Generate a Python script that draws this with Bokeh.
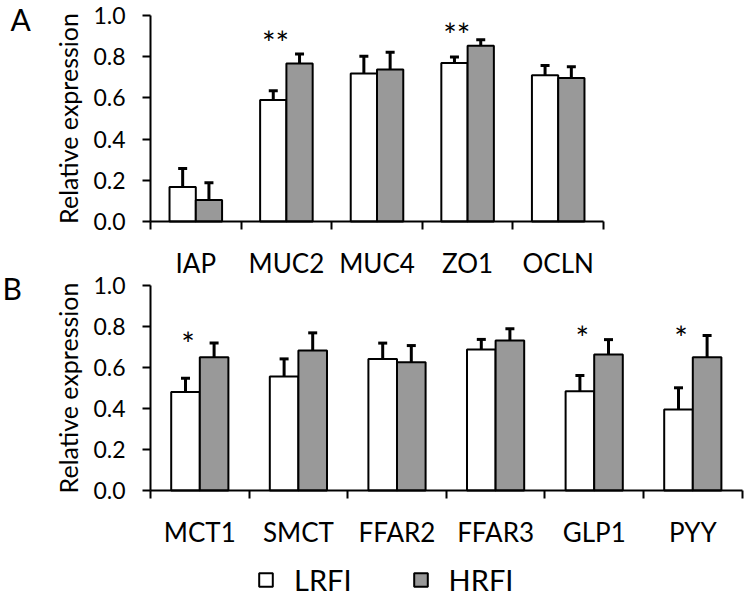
from bokeh.plotting import figure
from bokeh.models import (Range1d, LinearAxis, FixedTicker, Whisker, TeeHead,
                          ColumnDataSource, Label, Legend, LegendItem, NumeralTickFormatter)
from bokeh.transform import dodge
from bokeh.core.properties import value
from bokeh.embed import file_html
from bokeh.resources import INLINE

FONT = "Lato"

# ---------------- data ----------------
groups = ["LRFI", "HRFI"]
y_ticks = [0.0, 0.2, 0.4, 0.6, 0.8, 1.0]

genes_a = ["IAP", "MUC2", "MUC4", "ZO1", "OCLN"]
lrfi_a = [0.167, 0.590, 0.719, 0.770, 0.710]
lrfi_err_a = [0.090, 0.045, 0.083, 0.029, 0.047]
hrfi_a = [0.104, 0.767, 0.738, 0.853, 0.697]
hrfi_err_a = [0.084, 0.046, 0.084, 0.029, 0.054]
sig_a = ["", "**", "", "**", ""]
sig_height_a = [0.0, 0.87, 0.0, 0.91, 0.0]

genes_b = ["MCT1", "SMCT", "FFAR2", "FFAR3", "GLP1", "PYY"]
lrfi_b = [0.480, 0.556, 0.642, 0.688, 0.484, 0.395]
lrfi_err_b = [0.068, 0.086, 0.077, 0.049, 0.077, 0.106]
hrfi_b = [0.650, 0.683, 0.626, 0.732, 0.663, 0.650]
hrfi_err_b = [0.069, 0.086, 0.081, 0.057, 0.073, 0.106]
sig_b = ["*", "", "", "", "*", "*"]
sig_height_b = [0.717, 0.0, 0.0, 0.0, 0.748, 0.748]

WHITE = "#ffffff"
GRAY = "#999999"
BAR_W = 0.29
OFF = 0.145

W, H = 745, 597
AXIS_PX = 150       # x pixel of both y axes

p = figure(x_range=Range1d(0, 1), y_range=Range1d(0, 1), width=W, height=H,
           output_backend="svg", toolbar_location=None,
           x_axis_location=None, y_axis_location=None,
           min_border=0, min_border_left=0, min_border_right=0,
           min_border_top=0, min_border_bottom=0)
p.grid.visible = False
p.outline_line_color = None
p.background_fill_color = "white"
p.border_fill_color = "white"


def panel(name, letter, genes, lo, lo_err, hi, hi_err, sig, sig_h,
          cat_px, one_px, zero_px, letter_px):
    n = len(genes)
    idx = list(range(n))
    unit = zero_px - one_px
    x0 = -0.5 - AXIS_PX / cat_px
    p.extra_x_ranges = {**p.extra_x_ranges, name: Range1d(x0, x0 + W / cat_px)}
    p.extra_y_ranges = {**p.extra_y_ranges, name: Range1d((zero_px - H) / unit, zero_px / unit)}
    rn = dict(x_range_name=name, y_range_name=name)

    src = ColumnDataSource(dict(
        xc=idx, gene=genes, lo=lo, hi=hi,
        lo_up=[v + e for v, e in zip(lo, lo_err)],
        hi_up=[v + e for v, e in zip(hi, hi_err)],
        sig=sig, sig_h=sig_h,
    ))

    yax = LinearAxis(fixed_location=-0.5, bounds=(0, 1), **rn,
                     ticker=FixedTicker(ticks=y_ticks),
                     formatter=NumeralTickFormatter(format="0.0"),
                     minor_tick_line_color=None,
                     major_tick_out=8, major_tick_in=0, major_tick_line_width=2,
                     major_tick_line_color="black",
                     axis_line_width=2, axis_line_color="black",
                     major_label_standoff=17, major_label_text_font=FONT,
                     major_label_text_font_size="23px", major_label_text_color="black",
                     axis_label="Relative expression", axis_label_text_font=FONT,
                     axis_label_text_font_size="25px", axis_label_text_font_style="normal",
                     axis_label_text_color="black", axis_label_standoff=7)
    p.add_layout(yax, "left")

    # names at category centres, tick marks (minor ticks) at category boundaries
    xax = LinearAxis(fixed_location=0, bounds=(-0.5, n - 0.5), **rn,
                     ticker=FixedTicker(ticks=idx, minor_ticks=[i - 0.5 for i in range(n + 1)]),
                     major_label_overrides={i: g for i, g in zip(idx, genes)},
                     axis_line_width=2, axis_line_color="black",
                     major_tick_line_color=None, major_tick_out=0, major_tick_in=0,
                     minor_tick_out=8, minor_tick_in=0, minor_tick_line_width=2,
                     minor_tick_line_color="black",
                     major_label_standoff=17,
                     major_label_text_font=FONT, major_label_text_font_size="26px",
                     major_label_text_color="black")
    p.add_layout(xax, "below")

    r_lo = p.vbar(x=dodge("xc", -OFF), top="lo", width=BAR_W, source=src, **rn,
                  fill_color=WHITE, line_color="black", line_width=2)
    r_hi = p.vbar(x=dodge("xc", OFF), top="hi", width=BAR_W, source=src, **rn,
                  fill_color=GRAY, line_color="black", line_width=2)

    for field, up, off in (("lo", "lo_up", -OFF), ("hi", "hi_up", OFF)):
        w = Whisker(source=src, base=dodge("xc", off), lower=field, upper=up, **rn,
                    lower_head=None,
                    upper_head=TeeHead(size=9, line_width=3, line_color="black"),
                    line_width=3, line_color="black", level="glyph")
        p.add_layout(w)

    p.text(x=dodge("xc", -0.12), y="sig_h", text="sig", source=src, **rn,
           text_align="center", text_baseline="middle", text_font=value(FONT),
           text_font_size="32px", text_color="black")

    lx, ly = letter_px
    p.add_layout(Label(x=x0 + lx / cat_px, y=(zero_px - ly) / unit, **rn,
                       text=letter, text_font=FONT, text_font_size="30px",
                       text_baseline="top", text_align="left", text_color="black"))
    return r_lo, r_hi


panel("A", "A", genes_a, lrfi_a, lrfi_err_a, hrfi_a, hrfi_err_a, sig_a, sig_height_a,
      cat_px=90.6, one_px=15, zero_px=221, letter_px=(10, 0))
r_lo, r_hi = panel("B", "B", genes_b, lrfi_b, lrfi_err_b, hrfi_b, hrfi_err_b, sig_b,
                   sig_height_b, cat_px=98.6, one_px=285, zero_px=490, letter_px=(2, 269))

leg = Legend(items=[LegendItem(label=groups[0], renderers=[r_lo]),
                    LegendItem(label=groups[1], renderers=[r_hi])],
             orientation="horizontal", location=(257, 0),
             label_text_font=FONT, label_text_font_size="29px", label_text_color="black",
             glyph_width=17, glyph_height=17, label_standoff=20, spacing=60,
             border_line_color=None, background_fill_alpha=0, padding=0, margin=0)
p.add_layout(leg, "center")

open("out.html", "w").write(file_html(p, INLINE))
